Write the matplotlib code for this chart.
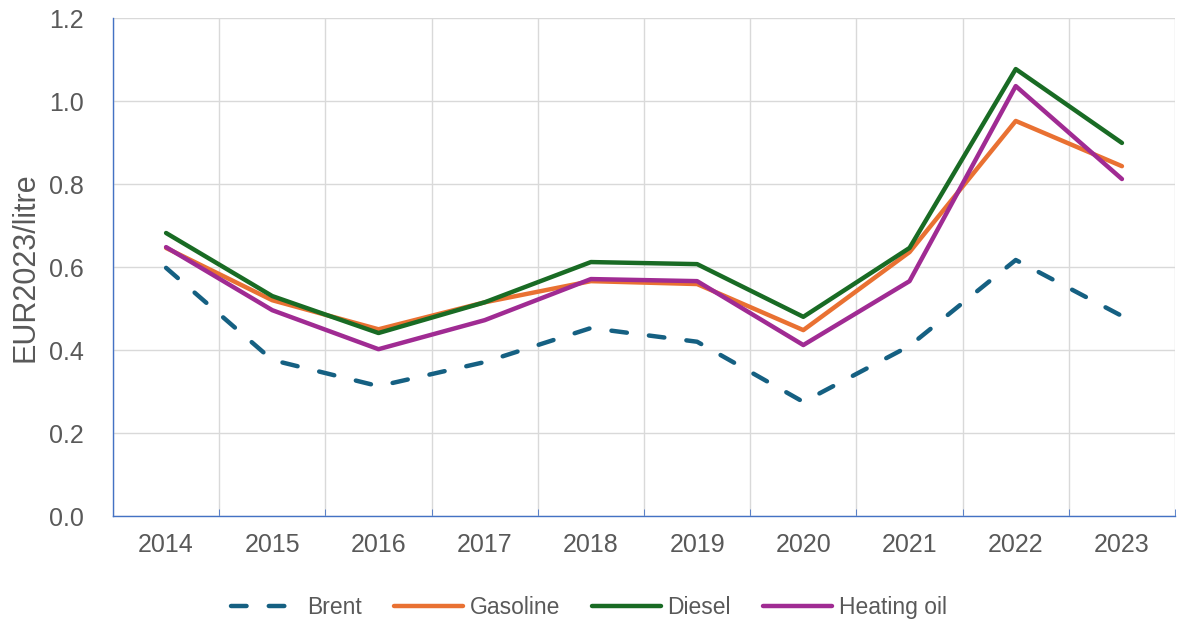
import numpy as np
import matplotlib.pyplot as plt

years = ['2014', '2015', '2016', '2017', '2018', '2019', '2020', '2021', '2022', '2023']
brent = [0.598, 0.376, 0.313, 0.371, 0.453, 0.420, 0.275, 0.410, 0.617, 0.482]
gasoline = [0.646, 0.520, 0.450, 0.515, 0.566, 0.559, 0.448, 0.636, 0.952, 0.843]
diesel = [0.682, 0.530, 0.441, 0.515, 0.612, 0.607, 0.480, 0.646, 1.077, 0.899]
heating_oil = [0.648, 0.496, 0.402, 0.472, 0.571, 0.566, 0.412, 0.566, 1.036, 0.812]

fig = plt.figure(figsize=(11.78, 6.21), dpi=100)
ax = fig.add_axes([0.0959, 0.169, 0.9016, 0.802])

x = np.arange(len(years))
grey = '#595959'
fonts = ['Liberation Sans', 'DejaVu Sans']

ax.plot(x, brent, color='#156082', lw=3.2, dashes=(3.5, 5), dash_capstyle='round',
        solid_capstyle='round', label='Brent')
ax.plot(x, gasoline, color='#E97132', lw=3.2, solid_capstyle='round', label='Gasoline')
ax.plot(x, diesel, color='#196B24', lw=3.2, solid_capstyle='round', label='Diesel')
ax.plot(x, heating_oil, color='#A02B93', lw=3.2, solid_capstyle='round', label='Heating oil')

# axes and grid
ax.set_xlim(-0.5, len(years) - 0.5)
ax.set_ylim(0, 1.2)
ax.set_yticks(np.arange(0, 1.21, 0.2))
ax.set_yticklabels(['%.1f' % v for v in np.arange(0, 1.21, 0.2)])
ax.set_xticks(x)
ax.set_xticklabels(years)
ax.set_xticks(np.arange(-0.5, len(years), 1), minor=True)

ax.grid(axis='y', color='#D9D9D9', lw=1.0)
ax.grid(axis='x', which='minor', color='#D9D9D9', lw=1.0)
ax.set_axisbelow(True)

for s in ['top', 'right']:
    ax.spines[s].set_visible(False)
for s in ['left', 'bottom']:
    ax.spines[s].set_color('#4472C4')
    ax.spines[s].set_linewidth(1.0)

ax.tick_params(axis='x', which='major', length=0, pad=12, labelsize=18, labelcolor=grey)
ax.tick_params(axis='x', which='minor', length=5, direction='in', color='#4472C4')
ax.tick_params(axis='y', length=0, pad=21, labelsize=18, labelcolor=grey)
for lab in ax.get_yticklabels() + ax.get_xticklabels():
    lab.set_family(fonts)

ax.set_ylabel('EUR2023/litre', fontsize=22, color=grey, labelpad=6, family=fonts)

leg = fig.legend(loc='center', bbox_to_anchor=(0.5, 0.022), ncol=4, frameon=False,
                 handlelength=3.0, handletextpad=0.3, columnspacing=1.4,
                 prop={'family': fonts, 'size': 16.5})
for t in leg.get_texts():
    t.set_color(grey)

fig.savefig('out.png', dpi=100)
